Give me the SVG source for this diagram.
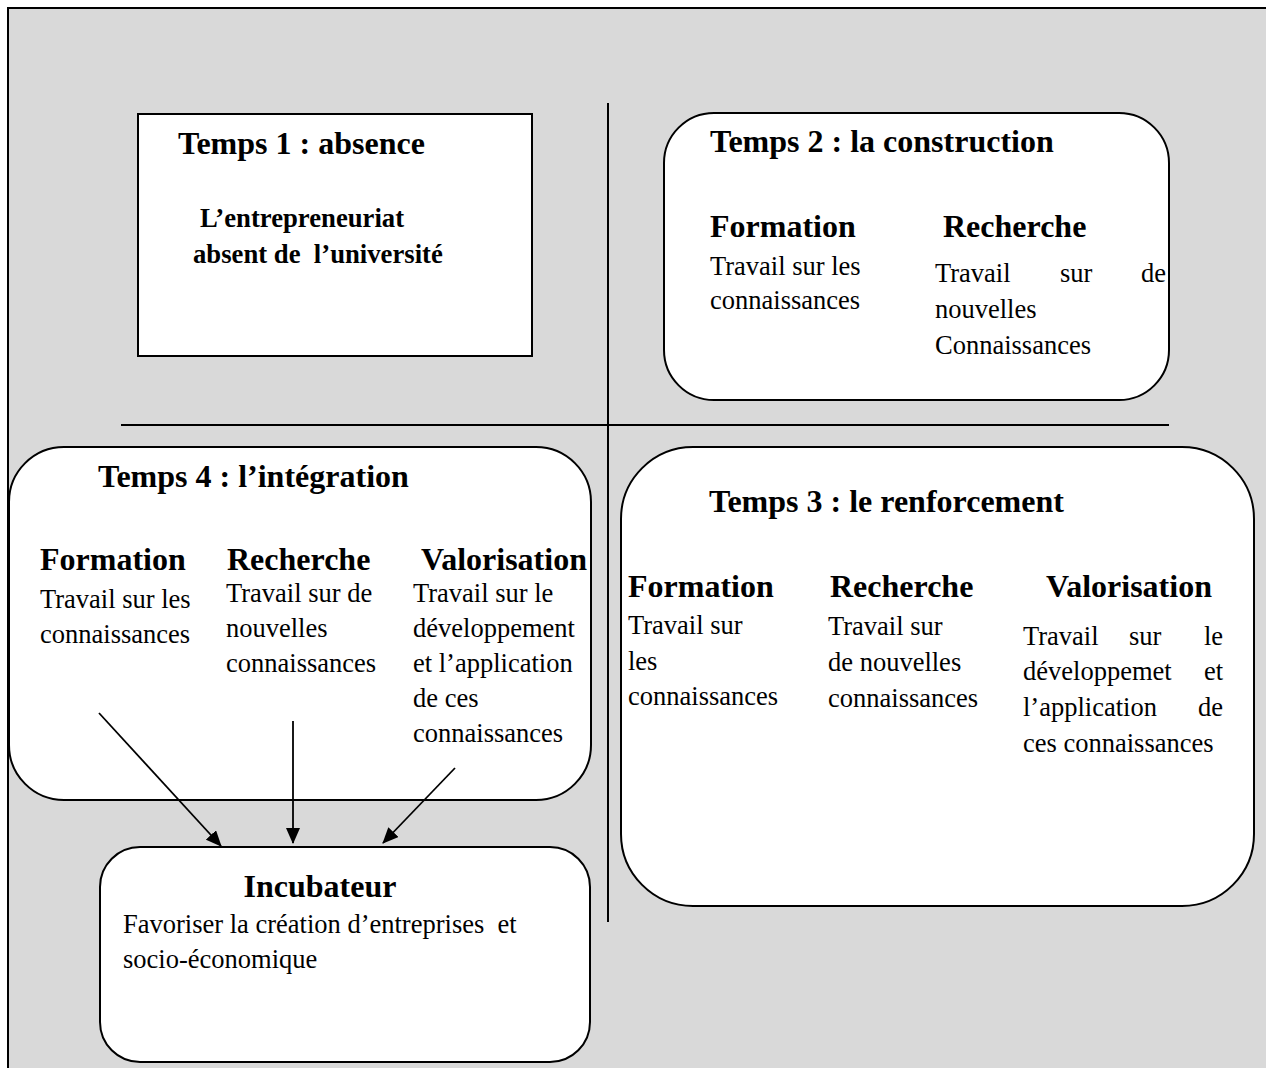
<svg xmlns="http://www.w3.org/2000/svg" width="1266" height="1068" viewBox="0 0 1266 1068">
<style>
.box{fill:#fff;stroke:#000;stroke-width:2}
.t{font-family:"Liberation Serif","Times New Roman",serif;font-weight:bold;font-size:32px;fill:#000}
.b{font-family:"Liberation Serif","Times New Roman",serif;font-weight:bold;font-size:26.7px;fill:#000}
.r{font-family:"Liberation Serif","Times New Roman",serif;font-size:26.5px;fill:#000}
.ln{stroke:#000;stroke-width:2;fill:none}
.ar{stroke:#000;stroke-width:1.8;fill:none;marker-end:url(#ah)}
</style>
<defs>
<marker id="ah" markerUnits="userSpaceOnUse" markerWidth="16" markerHeight="14" refX="15" refY="7" orient="auto">
<path d="M0,0 L16,7 L0,14 Z" fill="#000"/>
</marker>
</defs>
<rect x="8" y="8" width="1270" height="1080" fill="#d9d9d9" stroke="#000" stroke-width="2"/>
<g id="dividers">
<line class="ln" x1="608" y1="103" x2="608" y2="922"/>
<line class="ln" x1="121" y1="425" x2="1169" y2="425"/>
</g>
<g id="temps1">
<rect class="box" x="138" y="114" width="394" height="242"/>
<text class="t" x="178" y="154">Temps 1 : absence</text>
<text class="b" x="200" y="227">L’entrepreneuriat</text>
<text class="b" x="193" y="263">absent de&#160; l’université</text>
</g>
<g id="temps2">
<rect class="box" x="664" y="113" width="505" height="287" rx="50" ry="50"/>
<text class="t" x="710" y="152">Temps 2 : la construction</text>
<text class="t" x="710" y="237">Formation</text>
<text class="t" x="943" y="237">Recherche</text>
<text class="r" x="710" y="275">Travail sur les</text>
<text class="r" x="710" y="309">connaissances</text>
<text class="r" x="935" y="282">Travail</text>
<text class="r" x="1060" y="282">sur</text>
<text class="r" x="1166" y="282" text-anchor="end">de</text>
<text class="r" x="935" y="318">nouvelles</text>
<text class="r" x="935" y="354">Connaissances</text>
</g>
<g id="temps4">
<rect class="box" x="9" y="447" width="582" height="353" rx="55" ry="55"/>
<text class="t" x="98" y="487">Temps 4 : l’intégration</text>
<text class="t" x="40" y="570">Formation</text>
<text class="t" x="227" y="570">Recherche</text>
<text class="t" x="421" y="570">Valorisation</text>
<text class="r" x="40" y="608">Travail sur les</text>
<text class="r" x="40" y="643">connaissances</text>
<text class="r" x="226" y="602">Travail sur de</text>
<text class="r" x="226" y="637">nouvelles</text>
<text class="r" x="226" y="672">connaissances</text>
<text class="r" x="413" y="602">Travail sur le</text>
<text class="r" x="413" y="637">développement</text>
<text class="r" x="413" y="672">et l’application</text>
<text class="r" x="413" y="707">de ces</text>
<text class="r" x="413" y="742">connaissances</text>
</g>
<g id="temps3">
<rect class="box" x="621" y="447" width="633" height="459" rx="72" ry="72"/>
<text class="t" x="709" y="512">Temps 3 : le renforcement</text>
<text class="t" x="628" y="597">Formation</text>
<text class="t" x="830" y="597">Recherche</text>
<text class="t" x="1046" y="597">Valorisation</text>
<text class="r" x="628" y="634">Travail sur</text>
<text class="r" x="628" y="670">les</text>
<text class="r" x="628" y="705">connaissances</text>
<text class="r" x="828" y="635">Travail sur</text>
<text class="r" x="828" y="671">de nouvelles</text>
<text class="r" x="828" y="707">connaissances</text>
<text class="r" x="1023" y="645">Travail</text>
<text class="r" x="1129" y="645">sur</text>
<text class="r" x="1223" y="645" text-anchor="end">le</text>
<text class="r" x="1023" y="680">développemet</text>
<text class="r" x="1223" y="680" text-anchor="end">et</text>
<text class="r" x="1023" y="716">l’application</text>
<text class="r" x="1223" y="716" text-anchor="end">de</text>
<text class="r" x="1023" y="752">ces connaissances</text>
</g>
<g id="incubateur">
<rect class="box" x="100" y="847" width="490" height="215" rx="40" ry="40"/>
<text class="t" x="320" y="897" text-anchor="middle">Incubateur</text>
<text class="r" x="123" y="933">Favoriser la création d’entreprises&#160; et</text>
<text class="r" x="123" y="968">socio-économique</text>
</g>
<g id="connectors">
<line class="ar" x1="99" y1="713" x2="221" y2="846"/>
<line class="ar" x1="293" y1="721" x2="293" y2="843"/>
<line class="ar" x1="455" y1="768" x2="383" y2="843"/>
</g>
</svg>
